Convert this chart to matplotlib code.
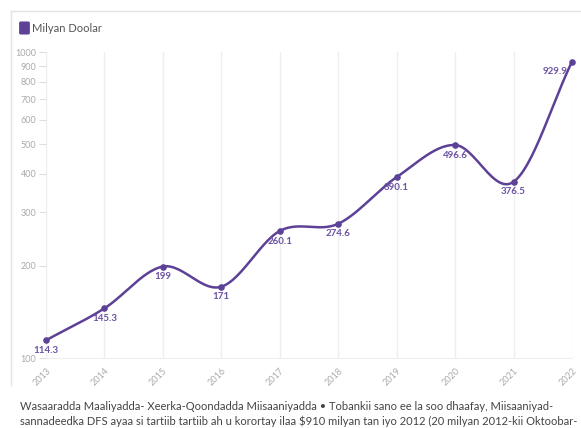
import matplotlib.pyplot as plt
import numpy as np
from matplotlib.patches import FancyBboxPatch
from matplotlib.lines import Line2D

years = [2013, 2014, 2015, 2016, 2017, 2018, 2019, 2020, 2021, 2022]
values = [114.3, 145.3, 199, 171, 260.1, 274.6, 390.1, 496.6, 376.5, 929.9]
labels = ["114.3", "145.3", "199", "171", "260.1", "274.6", "390.1", "496.6", "376.5", "929.9"]
yticks = [100, 200, 300, 400, 500, 600, 700, 800, 900, 1000]
series_name = "Milyan Doolar"
caption = ("Wasaaradda Maaliyadda- Xeerka-Qoondadda Miisaaniyadda \u2022 Tobankii sano ee la soo dhaafay, Miisaaniyad-\n"
           "sannadeedka DFS ayaa si tartiib tartiib ah u korortay ilaa $910 milyan tan iyo 2012 (20 milyan 2012-kii Oktoobar-")

purple = "#5d4196"
label_col = "#6b52a3"
plt.rcParams['font.family'] = ['Lato', 'DejaVu Sans']


def catmull(x, y, n=30):
    # smooth curve through the points (in log space)
    x = np.asarray(x, float)
    y = np.log10(np.asarray(y, float))
    px = np.concatenate([[2 * x[0] - x[1]], x, [2 * x[-1] - x[-2]]])
    py = np.concatenate([[2 * y[0] - y[1]], y, [2 * y[-1] - y[-2]]])
    xs, ys = [], []
    for i in range(1, len(px) - 2):
        t = np.linspace(0, 1, n)
        for arr, out in ((px, xs), (py, ys)):
            p0, p1, p2, p3 = arr[i - 1], arr[i], arr[i + 1], arr[i + 2]
            out.extend(0.5 * ((2 * p1) + (-p0 + p2) * t + (2 * p0 - 5 * p1 + 4 * p2 - p3) * t ** 2
                              + (-p0 + 3 * p1 - 3 * p2 + p3) * t ** 3))
    return np.array(xs), 10 ** np.array(ys)


fig = plt.figure(figsize=(5.81, 4.28), dpi=100)
ax = fig.add_axes([46 / 581, 1 - 358 / 428, 526 / 581, 306 / 428])

sx, sy = catmull(years, values)
ax.plot(sx, sy, color=purple, lw=1.8, zorder=3, clip_on=False)
ax.scatter(years, values, s=14, color=purple, zorder=4, clip_on=False)

for i, (x, v, t) in enumerate(zip(years, values, labels)):
    if i == len(years) - 1:
        ax.annotate(t, (x, v), xytext=(-3, -7), textcoords="offset points", ha="right", va="center",
                    fontsize=7, fontweight="bold", color=label_col)
    else:
        ax.annotate(t, (x, v), xytext=(0, -4), textcoords="offset points", ha="center", va="top",
                    fontsize=7, fontweight="bold", color=label_col)

ax.set_yscale("log")
ax.set_ylim(100, 1000)
ax.set_xlim(2013, 2022)
ax.set_yticks(yticks)
ax.set_yticklabels([str(v) for v in yticks])
ax.yaxis.set_minor_locator(plt.NullLocator())
ax.set_xticks(years)
ax.set_xticklabels([str(y) for y in years], rotation=45, ha="right", rotation_mode="anchor")
ax.tick_params(axis="y", length=5, color="#dddddd", labelsize=6.5, labelcolor="#aaaaaa", pad=2)
ax.tick_params(axis="x", length=0, labelsize=6.5, labelcolor="#aaaaaa", pad=6)
ax.grid(axis="x", color="#eeeeee", lw=1)
for s in ["top", "right", "left"]:
    ax.spines[s].set_visible(False)
ax.spines["bottom"].set_color("#eeeeee")
ax.set_axisbelow(True)

# outer frame lines
fig.add_artist(Line2D([11 / 581, 1], [1 - 11 / 428, 1 - 11 / 428], color="#e3e3e3", lw=1))
fig.add_artist(Line2D([11 / 581, 11 / 581], [1 - 11 / 428, 1 - 385 / 428], color="#e3e3e3", lw=1))

# legend
fig.add_artist(FancyBboxPatch((21 / 581, 1 - 33 / 428), 7 / 581, 10 / 428,
                              boxstyle="round,pad=0.002", color=purple))
fig.text(32 / 581, 1 - 28 / 428, series_name, fontsize=8, color="#555555", va="center")

fig.text(20 / 581, 1 - 401 / 428, caption, fontsize=8.05, color="#444444", va="top", linespacing=1.4)

fig.savefig("out.png", dpi=100)
